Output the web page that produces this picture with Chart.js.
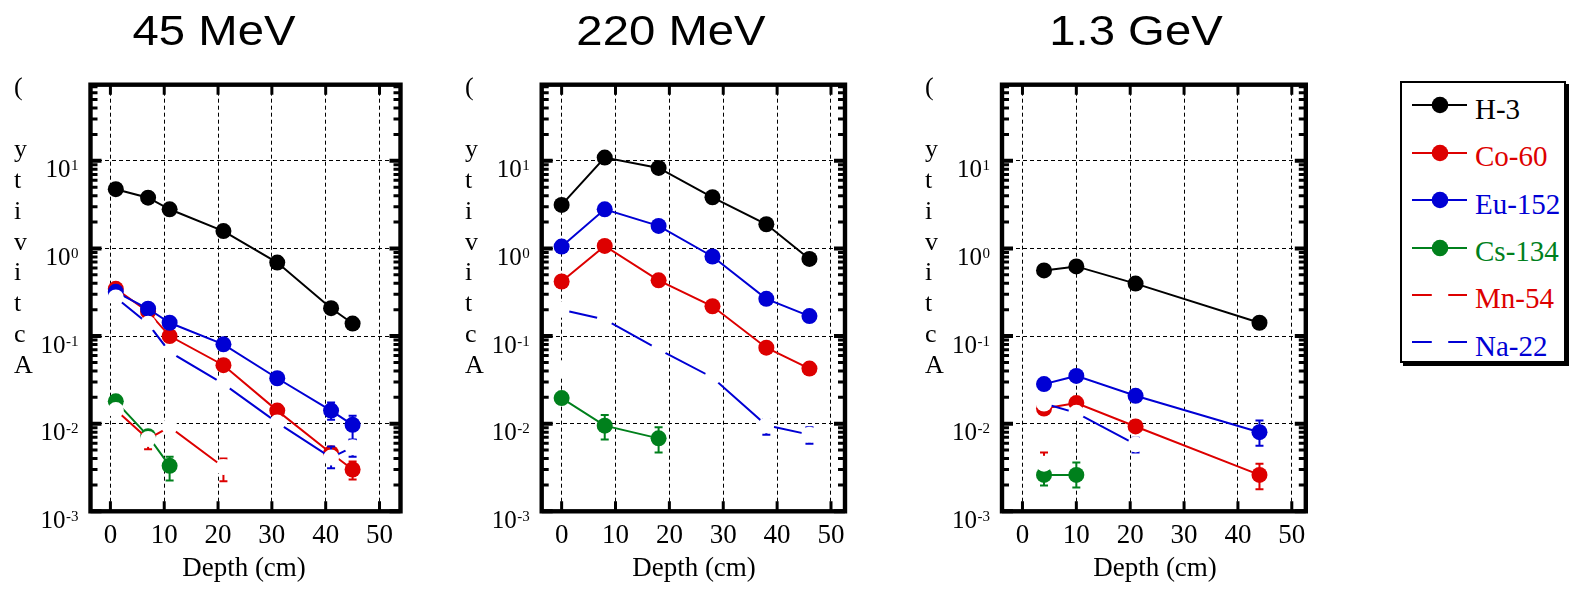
<!DOCTYPE html>
<html>
<head>
<meta charset="utf-8">
<title>Activity vs depth</title>
<script src="https://cdn.jsdelivr.net/npm/chart.js@4.4.0/dist/chart.umd.min.js"></script>
<style>
  body { margin: 0; background: #fff; width: 1571px; height: 592px; position: relative; overflow: hidden; }
  canvas { position: absolute; top: 0; }
  .title { position: absolute; top: 9px; font-family: "Liberation Sans", Arial, sans-serif; font-size: 43px;
           line-height: 1; white-space: nowrap; transform: translateX(-50%) scaleX(1.1); }
  .ytitle { position: absolute; top: 72px; font-family: "Liberation Serif", "Times New Roman", serif;
            font-size: 26px; line-height: 30.9px; }
  .xtitle { position: absolute; top: 554px; font-family: "Liberation Serif", "Times New Roman", serif;
            font-size: 27px; line-height: 1; white-space: nowrap; transform: translateX(-50%); }
  #legend { position: absolute; left: 1400px; top: 81px; width: 166px; height: 282px; box-sizing: border-box;
            border: 2px solid #000; box-shadow: 3px 3px 0 #000; background: #fff; }
  .lg-sym { position: absolute; }
  .lg-txt { position: absolute; font-family: "Liberation Serif", "Times New Roman", serif; font-size: 29px;
            line-height: 1; white-space: nowrap; }
</style>
</head>
<body>

<canvas id="c45" width="420" height="592" style="left:0px"></canvas>
<canvas id="c220" width="420" height="592" style="left:450px"></canvas>
<canvas id="c13" width="420" height="592" style="left:910px"></canvas>

<div class="title" style="left:214px">45 MeV</div>
<div class="title" style="left:671px">220 MeV</div>
<div class="title" style="left:1136px">1.3 GeV</div>

<div class="ytitle" style="left:14px">(<br>&nbsp;<br>y<br>t<br>i<br>v<br>i<br>t<br>c<br>A</div>
<div class="ytitle" style="left:465px">(<br>&nbsp;<br>y<br>t<br>i<br>v<br>i<br>t<br>c<br>A</div>
<div class="ytitle" style="left:925px">(<br>&nbsp;<br>y<br>t<br>i<br>v<br>i<br>t<br>c<br>A</div>

<div class="xtitle" style="left:244px">Depth (cm)</div>
<div class="xtitle" style="left:694px">Depth (cm)</div>
<div class="xtitle" style="left:1155px">Depth (cm)</div>

<div id="legend"></div>

<script>
// ── SERIES / COLORS ────────────────────────────────────────────────
var SERIES = ["H-3", "Co-60", "Eu-152", "Cs-134", "Mn-54", "Na-22"];
var COLORS = ["#000000", "#dd0000", "#0000d4", "#00801c", "#dd0000", "#0000d4"];
var HOLLOW = [false, false, false, false, true, true];   // white markers

var X_TICKS = [0, 10, 20, 30, 40, 50];
var Y_DECADES = [-3, -2, -1, 0, 1];

var SERIF = "'Liberation Serif', 'Times New Roman', serif";
var MARK_R = 8;

// ── 45 MeV ─────────────────────────────────────────────────────────
var d45 = [1, 7, 11, 21, 31, 41, 45];
var d45_Cs = [1, 7, 11];
var d45_Mn = [1, 7, 11, 21];
var a45_H3 = [4.75, 3.8, 2.8, 1.58, 0.69, 0.208, 0.139];
var a45_Co60 = [0.346, 0.19, 0.10, 0.0465, 0.0141, 0.0046, 0.0030];
var lo45_Co60 = [null, null, null, null, null, null, 0.0023];
var hi45_Co60 = [null, null, null, null, null, null, 0.0037];
var a45_Eu152 = [0.32, 0.205, 0.142, 0.0805, 0.033, 0.0141, 0.0097];
var lo45_Eu152 = [null, null, null, null, null, 0.0111, 0.0065];
var hi45_Eu152 = [null, null, null, null, null, 0.0175, 0.0123];
var a45_Cs134 = [0.018, 0.0072, 0.0033];
var lo45_Cs134 = [null, null, 0.00225];
var hi45_Cs134 = [null, null, 0.0042];
var a45_Mn54 = [0.0143, 0.0067, 0.0092, 0.0032];
var lo45_Mn54 = [null, 0.0051, null, 0.0022];
var hi45_Mn54 = [null, null, null, 0.0040];
var a45_Na22 = [0.276, 0.138, 0.066, 0.0285, 0.0103, 0.0041, 0.0054];
var lo45_Na22 = [null, null, null, null, null, 0.0031, 0.0042];
var hi45_Na22 = [null, null, null, null, null, 0.0055, 0.0066];

// ── 220 MeV ────────────────────────────────────────────────────────
var d220 = [0, 8, 18, 28, 38, 46];
var d220_Cs = [0, 8, 18];
var d220_Mn = [0];
var a220_H3 = [3.14, 10.9, 8.3, 3.84, 1.89, 0.76];
var a220_Co60 = [0.42, 1.07, 0.433, 0.219, 0.0737, 0.0426];
var a220_Eu152 = [1.05, 2.8, 1.81, 0.81, 0.266, 0.169];
var a220_Cs134 = [0.0196, 0.0095, 0.0068];
var lo220_Cs134 = [null, 0.0066, 0.0047];
var hi220_Cs134 = [null, 0.0126, 0.0091];
var a220_Mn54 = [0.043];
var a220_Na22 = [0.20, 0.155, 0.0706, 0.0337, 0.0096, 0.0075];
var lo220_Na22 = [null, null, null, null, 0.0075, 0.0059];
var hi220_Na22 = [null, null, null, null, 0.0113, 0.0091];

// ── 1.3 GeV ────────────────────────────────────────────────────────
var d13 = [4, 10, 21, 44];
var d13_Cs = [4, 10];
var d13_Mn = [4];
var d13_Na = [4, 10, 21];
var a13_H3 = [0.562, 0.624, 0.397, 0.142];
var a13_Co60 = [0.0149, 0.0172, 0.0093, 0.0026];
var lo13_Co60 = [null, null, null, 0.00178];
var hi13_Co60 = [null, null, null, 0.0035];
var a13_Eu152 = [0.0283, 0.0351, 0.0208, 0.0080];
var lo13_Eu152 = [null, null, null, 0.0056];
var hi13_Eu152 = [null, null, null, 0.0109];
var a13_Cs134 = [0.0026, 0.0026];
var lo13_Cs134 = [0.00197, 0.00187];
var hi13_Cs134 = [null, 0.0036];
var a13_Mn54 = [0.0035];
var lo13_Mn54 = [null];
var hi13_Mn54 = [0.0047];
var a13_Na22 = [0.0170, 0.0133, 0.0058];
var lo13_Na22 = [null, null, 0.0047];
var hi13_Na22 = [null, null, 0.0069];

// ── BUILD ONE DATASET ──────────────────────────────────────────────
function series(k, xs, ys, lo, hi) {
    var pts = [];
    for (var i = 0; i < xs.length; i++) pts.push({ x: xs[i], y: ys[i] });
    return {
        label: SERIES[k],
        data: pts,
        borderColor: COLORS[k],
        backgroundColor: COLORS[k],
        borderWidth: 2,
        pointRadius: MARK_R,
        pointHoverRadius: MARK_R,
        pointBorderWidth: 0,
        pointBackgroundColor: HOLLOW[k] ? "#ffffff" : COLORS[k],
        tension: 0,
        fill: false,
        order: SERIES.length - k,     // later series drawn on top
        errLo: lo || null,
        errHi: hi || null
    };
}

// ── FRAME, TICKS, Y LABELS, ERROR BARS ─────────────────────────────
var framePlugin = {
    id: "frame",
    beforeDatasetDraw: function (chart, args) {
        var ds = chart.data.datasets[args.index];
        if (!ds.errLo && !ds.errHi) return;
        var ctx = chart.ctx, xs = chart.scales.x, ys = chart.scales.y;
        ctx.save();
        ctx.strokeStyle = ds.borderColor;
        ctx.lineWidth = 2;
        for (var i = 0; i < ds.data.length; i++) {
            var px = xs.getPixelForValue(ds.data[i].x);
            var py = ys.getPixelForValue(ds.data[i].y);
            var ends = [ds.errLo ? ds.errLo[i] : null, ds.errHi ? ds.errHi[i] : null];
            for (var j = 0; j < 2; j++) {
                if (ends[j] == null) continue;
                var ey = ys.getPixelForValue(ends[j]);
                ctx.beginPath();
                ctx.moveTo(px, py); ctx.lineTo(px, ey);
                ctx.moveTo(px - 4, ey); ctx.lineTo(px + 4, ey);
                ctx.stroke();
            }
        }
        ctx.restore();
    },
    afterDraw: function (chart) {
        var ctx = chart.ctx, a = chart.chartArea;
        var xs = chart.scales.x, ys = chart.scales.y;
        ctx.save();
        ctx.strokeStyle = "#000";
        ctx.fillStyle = "#000";

        // minor y ticks, both sides
        ctx.lineWidth = 3;
        for (var d = -3; d <= 1; d++) {
            for (var m = 2; m <= 9; m++) {
                var v = m * Math.pow(10, d);
                if (v > ys.max) continue;
                var py = ys.getPixelForValue(v);
                ctx.beginPath();
                ctx.moveTo(a.left, py); ctx.lineTo(a.left + 7, py);
                ctx.moveTo(a.right, py); ctx.lineTo(a.right - 7, py);
                ctx.stroke();
            }
        }
        // major y ticks
        ctx.lineWidth = 4;
        Y_DECADES.forEach(function (e) {
            var py = ys.getPixelForValue(Math.pow(10, e));
            ctx.beginPath();
            ctx.moveTo(a.left, py); ctx.lineTo(a.left + 11, py);
            ctx.moveTo(a.right, py); ctx.lineTo(a.right - 11, py);
            ctx.stroke();
        });
        // major x ticks, top and bottom
        ctx.lineWidth = 3;
        X_TICKS.forEach(function (t) {
            var px = xs.getPixelForValue(t);
            ctx.beginPath();
            ctx.moveTo(px, a.top); ctx.lineTo(px, a.top + 10);
            ctx.moveTo(px, a.bottom); ctx.lineTo(px, a.bottom - 10);
            ctx.stroke();
        });
        // frame
        ctx.lineWidth = 4.4;
        ctx.strokeRect(a.left, a.top, a.right - a.left, a.bottom - a.top);

        // y labels: 10 with superscript exponent
        var R = a.left - 12;
        ctx.textAlign = "right";
        ctx.textBaseline = "alphabetic";
        Y_DECADES.forEach(function (e) {
            var py = ys.getPixelForValue(Math.pow(10, e));
            var exp = e < 0 ? "-" + (-e) : String(e);
            ctx.font = "15px " + SERIF;
            var ew = ctx.measureText(exp).width;
            ctx.fillText(exp, R, py + 9.5);
            ctx.font = "25px " + SERIF;
            ctx.fillText("10", R - ew - 0.5, py + 16.5);
        });
        ctx.restore();
    }
};

// ── CREATE A PANEL ─────────────────────────────────────────────────
function makePanel(id, datasets, xMin, xMax, leftW, padRight) {
    return new Chart(document.getElementById(id), {
        type: "line",
        data: { datasets: datasets },
        options: {
            responsive: false,
            animation: false,
            events: [],
            layout: { padding: { top: 84.7, right: padRight, bottom: 0, left: 0 } },
            plugins: { legend: { display: false }, tooltip: { enabled: false } },
            scales: {
                x: {
                    type: "linear",
                    min: xMin, max: xMax,
                    afterBuildTicks: function (s) { s.ticks = X_TICKS.map(function (v) { return { value: v }; }); },
                    afterFit: function (s) { s.height = 80.7; },
                    grid: { color: "#000", lineWidth: 1, drawTicks: false },
                    border: { display: false, dash: [4, 3] },
                    ticks: {
                        padding: 8, color: "#000", maxRotation: 0, autoSkip: false,
                        font: { family: SERIF, size: 27 }
                    }
                },
                y: {
                    type: "logarithmic",
                    min: 1e-3, max: 74,
                    afterBuildTicks: function (s) { s.ticks = Y_DECADES.map(function (e) { return { value: Math.pow(10, e) }; }); },
                    afterFit: function (s) { s.width = leftW; },
                    grid: { color: "#000", lineWidth: 1, drawTicks: false },
                    border: { display: false, dash: [4, 3] },
                    ticks: { display: false }
                }
            }
        },
        plugins: [framePlugin]
    });
}

function drawAll() {
    makePanel("c45", [
        series(0, d45, a45_H3),
        series(1, d45, a45_Co60, lo45_Co60, hi45_Co60),
        series(2, d45, a45_Eu152, lo45_Eu152, hi45_Eu152),
        series(3, d45_Cs, a45_Cs134, lo45_Cs134, hi45_Cs134),
        series(4, d45_Mn, a45_Mn54, lo45_Mn54, hi45_Mn54),
        series(5, d45, a45_Na22, lo45_Na22, hi45_Na22)
    ], -3.7, 53.9, 90.5, 19.5);

    makePanel("c220", [
        series(0, d220, a220_H3),
        series(1, d220, a220_Co60),
        series(2, d220, a220_Eu152),
        series(3, d220_Cs, a220_Cs134, lo220_Cs134, hi220_Cs134),
        series(4, d220_Mn, a220_Mn54),
        series(5, d220, a220_Na22, lo220_Na22, hi220_Na22)
    ], -3.7, 52.6, 91.7, 25);

    makePanel("c13", [
        series(0, d13, a13_H3),
        series(1, d13, a13_Co60, lo13_Co60, hi13_Co60),
        series(2, d13, a13_Eu152, lo13_Eu152, hi13_Eu152),
        series(3, d13_Cs, a13_Cs134, lo13_Cs134, hi13_Cs134),
        series(4, d13_Mn, a13_Mn54, lo13_Mn54, hi13_Mn54),
        series(5, d13_Na, a13_Na22, lo13_Na22, hi13_Na22)
    ], -3.8, 52.6, 92, 24.2);
}

// ── LEGEND ─────────────────────────────────────────────────────────
var legend = document.getElementById("legend");
var ROW0 = 22.3, ROW_STEP = 47.4;   // line y inside the box
for (var k = 0; k < SERIES.length; k++) {
    var y = ROW0 + k * ROW_STEP;
    var sym = document.createElementNS("http://www.w3.org/2000/svg", "svg");
    sym.setAttribute("class", "lg-sym");
    sym.setAttribute("width", "60");
    sym.setAttribute("height", "20");
    sym.style.left = "8px";
    sym.style.top = (y - 10) + "px";
    sym.innerHTML = '<line x1="2" y1="10" x2="57" y2="10" stroke="' + COLORS[k] + '" stroke-width="2"/>' +
        '<circle cx="30" cy="10" r="8.3" fill="' + (HOLLOW[k] ? "#ffffff" : COLORS[k]) + '"/>';
    legend.appendChild(sym);
    var txt = document.createElement("div");
    txt.className = "lg-txt";
    txt.style.left = "73px";
    txt.style.top = (y - 10.6) + "px";
    txt.style.color = COLORS[k];
    txt.textContent = SERIES[k];
    legend.appendChild(txt);
}

// canvas text needs the serif face loaded first
Promise.all([
    document.fonts.load("27px 'Liberation Serif'"),
    document.fonts.load("15px 'Liberation Serif'")
]).then(drawAll, drawAll);
</script>
</body>
</html>
